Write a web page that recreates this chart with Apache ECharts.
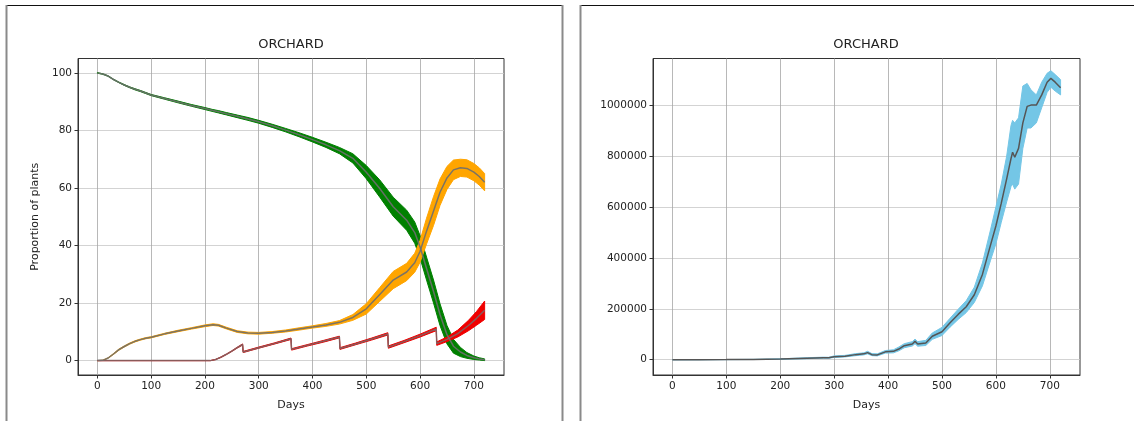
<!DOCTYPE html>
<html><head><meta charset="utf-8">
<script src="https://cdn.jsdelivr.net/npm/echarts@6.0.0/dist/echarts.min.js"></script>
<style>html,body{margin:0;padding:0;background:#fff;}#c{width:1134px;height:421px;}</style>
</head><body><div id="c"></div>
<script>
// ---- data ----
const xTicks = [0, 100, 200, 300, 400, 500, 600, 700];
const leftYTicks = [0, 20, 40, 60, 80, 100];
const rightYTicks = [0, 200000, 400000, 600000, 800000, 1000000];

const leftDays = [0,10,20,30,40,50,60,70,80,90,100,125,150,175,200,215,225,240,260,280,300,325,350,375,400,425,450,475,500,525,550,575,590,600,612,625,637,650,662,675,687,700,710,720];
const greenMean = [100,99.6,98.9,97.7,96.7,95.8,95.0,94.3,93.7,93.0,92.3,91.1,89.9,88.7,87.6,86.9,86.5,85.8,84.9,84.0,83.0,81.6,80.1,78.5,76.8,75.0,73.0,70.3,65.5,59.8,53.5,48.8,44.5,39.5,32.0,24.0,16.0,9.0,5.0,3.0,1.8,1.0,0.6,0.3];
const greenSpread = [0.1,0.1,0.1,0.1,0.1,0.15,0.15,0.2,0.2,0.2,0.2,0.25,0.3,0.3,0.35,0.35,0.4,0.4,0.45,0.5,0.5,0.55,0.6,0.7,0.8,0.9,1.1,1.6,2.3,3.0,3.3,3.5,3.7,3.9,4.0,4.0,3.8,3.2,2.4,1.6,1.0,0.6,0.4,0.3];
const orangeMean = [0,0.1,0.9,2.3,3.8,4.9,5.9,6.7,7.3,7.8,8.1,9.3,10.3,11.2,12.1,12.5,12.3,11.3,10.1,9.6,9.5,9.8,10.3,11.0,11.7,12.4,13.3,15.0,18.0,23.0,28.0,30.8,34.0,38.0,45.0,52.0,58.5,63.5,66.3,67.0,66.8,65.5,64.0,62.0];
const orangeSpread = [0,0.05,0.1,0.15,0.2,0.2,0.2,0.2,0.2,0.2,0.2,0.2,0.25,0.25,0.3,0.3,0.3,0.3,0.3,0.3,0.3,0.3,0.35,0.4,0.4,0.5,0.6,1.0,1.8,2.4,3.0,3.0,3.3,3.8,4.5,5.0,4.6,4.0,3.4,3.0,3.0,3.0,3.0,3.0];

const redDays = [0,200,210,220,230,240,250,260,270,271,300,330,360,361,390,420,450,451,480,510,540,541,570,600,630,631,650,670,690,705,720];
const redMean = [0,0,0,0.4,1.2,2.2,3.3,4.5,5.6,3.0,4.5,6.0,7.6,3.9,5.3,6.7,8.2,4.2,5.8,7.5,9.3,4.7,6.6,8.7,11.0,5.9,7.4,9.4,12.2,14.7,17.5];
const redSpread = [0,0,0,0.05,0.1,0.1,0.1,0.15,0.2,0.2,0.2,0.2,0.25,0.25,0.25,0.3,0.3,0.3,0.3,0.35,0.4,0.4,0.4,0.5,0.6,0.6,0.8,1.2,1.8,2.4,3.2];

const rightDays = [0,50,100,150,200,250,280,290,300,320,340,355,362,370,380,395,410,420,430,445,450,455,470,482,500,515,530,545,560,575,590,600,610,620,628,631,635,642,650,658,665,675,685,695,702,710,720];
const popMean = [0,200,500,1200,2500,6000,8000,7500,12000,14000,20000,23000,28000,20000,19000,31000,33000,42000,55000,62000,72000,62000,66000,92000,110000,145000,178000,208000,255000,335000,450000,525000,615000,710000,790000,815000,795000,830000,930000,995000,1000000,1000000,1040000,1090000,1105000,1090000,1068000];
const popLow = [0,0,200,800,1500,4000,6000,5500,9000,11000,16000,19000,23000,16000,15000,26000,27000,35000,47000,54000,63000,53000,56000,80000,95000,128000,158000,185000,225000,290000,390000,455000,540000,620000,680000,690000,670000,690000,830000,910000,910000,930000,990000,1050000,1070000,1055000,1040000];
const popHigh = [0,400,800,1600,3500,8000,10000,9500,15000,17000,24000,27000,33000,24000,23000,36000,39000,50000,63000,71000,81000,71000,76000,105000,127000,163000,198000,232000,285000,380000,510000,600000,690000,800000,920000,940000,930000,950000,1075000,1085000,1060000,1040000,1090000,1125000,1135000,1120000,1100000];

// ---- helpers ----
const FONT = 'DejaVu Sans';
const TXT = '#222';
const pairs = (xs, ys) => xs.map((x, i) => [x, ys[i]]);
const lo = (m, s) => m.map((v, i) => v - s[i]);
const hi = (m, s) => m.map((v, i) => v + s[i]);

// shaded band between low and high, drawn as one polygon through the axis scales
function band(id, xs, los, his, color, gi) {
  return {
    type: 'custom', name: id, xAxisIndex: gi, yAxisIndex: gi, silent: true, clip: true, z: 2,
    data: xs.map((x, i) => [x, los[i], his[i]]),
    encode: { x: 0, y: [1, 2] },
    renderItem: function (params, api) {
      if (params.dataIndex !== 0) return null;
      const pts = [];
      for (let i = 0; i < xs.length; i++) pts.push(api.coord([xs[i], his[i]]));
      for (let i = xs.length - 1; i >= 0; i--) pts.push(api.coord([xs[i], los[i]]));
      return { type: 'polygon', shape: { points: pts, smooth: 0 },
        style: { fill: color, stroke: color, lineWidth: 1 } };
    }
  };
}
function meanLine(id, xs, ys, color, gi) {
  return { type: 'line', name: id, xAxisIndex: gi, yAxisIndex: gi, data: pairs(xs, ys), symbol: 'none',
    lineStyle: { color: color, width: 1.5 }, z: 3 };
}

function xAxisCfg(gi) {
  return { type: 'value', gridIndex: gi, min: -36, max: 756, name: 'Days', nameLocation: 'middle', nameGap: 25,
    nameTextStyle: { fontFamily: FONT, fontSize: 11, color: TXT },
    axisLine: { show: true, onZero: false, lineStyle: { color: '#333', width: 1 } },
    axisTick: { show: true, length: 3.5, customValues: xTicks, lineStyle: { color: '#333' } },
    axisLabel: { customValues: xTicks, fontFamily: FONT, fontSize: 10.5, color: TXT, margin: 6 },
    splitLine: { show: true, lineStyle: { color: '#a6a6a6', width: 0.8 } } };
}
function yAxisCfg(gi, min, max, ticks, name) {
  const c = { type: 'value', gridIndex: gi, min: min, max: max,
    axisLine: { show: true, onZero: false, lineStyle: { color: '#333', width: 1 } },
    axisTick: { show: true, length: 3.5, customValues: ticks, lineStyle: { color: '#333' } },
    axisLabel: { customValues: ticks, fontFamily: FONT, fontSize: 10.5, color: TXT, margin: 6, formatter: v => String(v) },
    splitLine: { show: true, lineStyle: { color: '#c8c8c8', width: 0.8 } } };
  if (name) {
    Object.assign(c, { name: name, nameLocation: 'middle', nameGap: 37, nameRotate: 90,
      nameTextStyle: { fontFamily: FONT, fontSize: 11, color: TXT } });
  }
  return c;
}

const series = [
  band('green band', leftDays, lo(greenMean, greenSpread), hi(greenMean, greenSpread), '#008000', 0),
  meanLine('green mean', leftDays, greenMean, 'rgba(110,110,110,0.9)', 0),
  band('orange band', leftDays, lo(orangeMean, orangeSpread), hi(orangeMean, orangeSpread), '#ffa500', 0),
  meanLine('orange mean', leftDays, orangeMean, 'rgba(110,110,110,0.9)', 0),
  band('red band', redDays, lo(redMean, redSpread), hi(redMean, redSpread), '#f00000', 0),
  meanLine('red mean', redDays, redMean, 'rgba(120,105,105,0.85)', 0),
  band('pop band', rightDays, popLow, popHigh, '#74c6e6', 1),
  meanLine('pop mean', rightDays, popMean, '#555555', 1)
];

const chart = echarts.init(document.getElementById('c'), null, { renderer: 'canvas' });
chart.setOption({
  animation: false,
  backgroundColor: '#fff',
  title: [
    { text: 'ORCHARD', left: 291, top: 38.5, textAlign: 'center', padding: 0,
      textStyle: { fontFamily: FONT, fontSize: 13, fontWeight: 'normal', color: TXT } },
    { text: 'ORCHARD', left: 866, top: 38.5, textAlign: 'center', padding: 0,
      textStyle: { fontFamily: FONT, fontSize: 13, fontWeight: 'normal', color: TXT } }
  ],
  grid: [
    { left: 78, top: 58.5, width: 426, height: 316.5, show: true, borderColor: '#333', borderWidth: 1, containLabel: false, outerBoundsMode: 'none' },
    { left: 653, top: 58.5, width: 427, height: 316.5, show: true, borderColor: '#333', borderWidth: 1, containLabel: false, outerBoundsMode: 'none' }
  ],
  xAxis: [xAxisCfg(0), xAxisCfg(1)],
  yAxis: [
    yAxisCfg(0, -5, 105, leftYTicks, 'Proportion of plants'),
    yAxisCfg(1, -60000, 1183000, rightYTicks, null)
  ],
  graphic: [
    { type: 'line', shape: { x1: 6, y1: 5.5, x2: 563, y2: 5.5 }, style: { stroke: '#111', lineWidth: 1.2 } },
    { type: 'line', shape: { x1: 6.5, y1: 5, x2: 6.5, y2: 421 }, style: { stroke: '#8a8a8a', lineWidth: 2 } },
    { type: 'line', shape: { x1: 562.5, y1: 5, x2: 562.5, y2: 421 }, style: { stroke: '#8a8a8a', lineWidth: 2 } },
    { type: 'line', shape: { x1: 580, y1: 5.5, x2: 1134, y2: 5.5 }, style: { stroke: '#111', lineWidth: 1.2 } },
    { type: 'line', shape: { x1: 580.5, y1: 5, x2: 580.5, y2: 421 }, style: { stroke: '#8a8a8a', lineWidth: 2 } }
  ],
  series: series
});
</script></body></html>
